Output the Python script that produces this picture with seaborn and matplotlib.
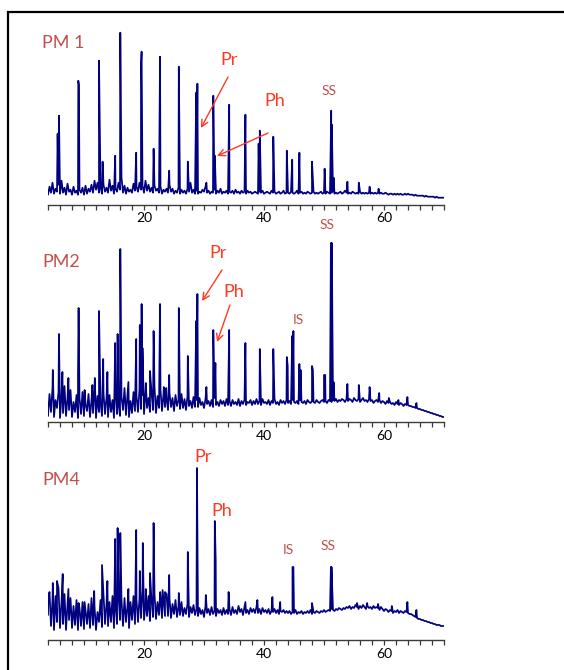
import numpy as np
import pandas as pd
import matplotlib
matplotlib.use("Agg")
import matplotlib.pyplot as plt
import matplotlib.patches as patches
import seaborn as sns

# retention time grid of the background trace (min), step 0.25 from 4 to 70
grid_start, grid_stop, grid_step = 4.0, 70.0, 0.25

# background / noise level (signal units ~ pixels above the axis)
# one row = 5 min
noise_pm1 = [10, 18, 12, 22, 11, 16, 13, 20, 11, 24, 12, 17, 10, 21, 13, 15, 10, 18, 12, 14,
             10, 15, 12, 17, 10, 19, 11, 16, 13, 20, 12, 24, 15, 22, 12, 18, 11, 20, 13, 17,
             12, 25, 14, 19, 11, 16, 13, 22, 15, 27, 12, 19, 11, 17, 13, 15, 12, 21, 14, 18,
             13, 22, 15, 19, 12, 24, 14, 20, 13, 17, 12, 19, 14, 16, 12, 18, 11, 15, 13, 16,
             12, 20, 13, 16, 11, 14, 12, 17, 11, 15, 12, 14, 11, 16, 13, 22, 12, 15, 11, 14,
             11, 13, 12, 15, 13, 18, 12, 14, 11, 13, 12, 15, 11, 14, 12, 16, 11, 13, 12, 14,
             11, 13, 12, 14, 11, 15, 12, 13, 11, 14, 12, 13, 11, 14, 12, 13, 11, 12, 13, 12,
             11, 13, 12, 14, 11, 12, 13, 12, 11, 14, 12, 13, 11, 12, 13, 11, 12, 14, 11, 12,
             12, 11, 13, 12, 11, 12, 14, 11, 12, 13, 11, 12, 11, 13, 12, 11, 12, 13, 11, 12,
             11, 12, 13, 11, 12, 11, 13, 12, 11, 12, 13, 11, 12, 11, 12, 13, 11, 12, 14, 12,
             11, 12, 11, 13, 12, 11, 12, 11, 13, 11, 12, 11, 12, 11, 12, 11, 12, 11, 12, 11,
             12, 11, 12, 11, 11, 12, 11, 10, 11, 11, 10, 11, 10, 11, 10, 11, 10, 10, 11, 10,
             11, 10, 10, 10, 9, 10, 9, 9, 9, 9, 9, 8, 9, 8, 8, 8, 8, 8, 7, 8,
             7, 7, 7, 7, 7]
noise_pm2 = [6, 28, 10, 34, 5, 22, 14, 30, 4, 26, 9, 36, 6, 24, 12, 32, 5, 20, 10, 27,
             4, 24, 8, 30, 6, 18, 11, 28, 5, 22, 9, 33, 4, 26, 10, 20, 6, 29, 8, 24,
             5, 27, 10, 22, 4, 30, 8, 19, 6, 25, 12, 34, 7, 28, 5, 21, 9, 30, 11, 26,
             10, 33, 13, 27, 8, 31, 14, 24, 10, 30, 12, 35, 9, 26, 14, 32, 11, 28, 15, 25,
             12, 29, 15, 24, 11, 27, 16, 22, 13, 28, 14, 23, 12, 26, 16, 21, 14, 25, 15, 22,
             15, 24, 17, 20, 14, 23, 18, 21, 16, 22, 15, 24, 17, 20, 16, 22, 18, 21, 16, 23,
             17, 21, 16, 22, 18, 20, 17, 23, 16, 21, 18, 22, 17, 20, 19, 22, 17, 21, 18, 23,
             18, 21, 17, 23, 19, 20, 18, 22, 17, 21, 19, 23, 18, 20, 17, 22, 19, 21, 18, 22,
             19, 21, 18, 22, 20, 19, 21, 18, 22, 20, 19, 21, 18, 22, 20, 19, 21, 20, 19, 22,
             20, 19, 21, 22, 20, 21, 19, 22, 21, 20, 22, 21, 23, 20, 22, 21, 23, 22, 20, 23,
             21, 23, 22, 20, 24, 22, 21, 23, 20, 22, 24, 21, 22, 20, 23, 21, 22, 19, 21, 22,
             20, 22, 19, 21, 20, 18, 21, 19, 20, 18, 19, 17, 20, 18, 17, 19, 18, 16, 18, 17,
             17, 16, 16, 15, 15, 14, 14, 13, 13, 12, 12, 11, 11, 10, 10, 9, 9, 8, 8, 7,
             7, 6, 6, 5, 5]
noise_pm4 = [25, 48, 14, 40, 10, 44, 18, 52, 12, 38, 16, 46, 10, 36, 20, 42, 12, 34, 15, 40,
             10, 32, 14, 38, 11, 30, 16, 36, 12, 42, 15, 34, 10, 28, 18, 40, 13, 46, 16, 36,
             14, 38, 18, 44, 12, 36, 16, 46, 20, 40, 14, 42, 18, 34, 12, 38, 20, 44, 16, 40,
             18, 42, 22, 48, 20, 36, 24, 44, 19, 40, 23, 46, 21, 38, 25, 44, 22, 40, 24, 46,
             24, 42, 22, 36, 26, 40, 23, 34, 25, 38, 24, 32, 26, 36, 23, 33, 27, 35, 25, 31,
             24, 32, 26, 30, 23, 34, 27, 31, 25, 33, 26, 29, 24, 31, 27, 30, 25, 32, 26, 30,
             26, 31, 25, 33, 27, 30, 26, 34, 28, 31, 25, 33, 27, 30, 26, 32, 28, 31, 27, 33,
             27, 31, 26, 32, 28, 30, 27, 31, 26, 29, 28, 31, 27, 30, 26, 29, 28, 30, 27, 29,
             27, 29, 26, 28, 27, 30, 26, 28, 27, 29, 26, 28, 27, 29, 27, 30, 26, 28, 27, 29,
             28, 27, 29, 28, 30, 28, 29, 30, 29, 31, 30, 29, 31, 30, 32, 31, 30, 32, 31, 33,
             32, 34, 31, 33, 32, 35, 33, 31, 34, 32, 35, 33, 31, 34, 32, 33, 31, 34, 32, 33,
             32, 30, 33, 31, 29, 31, 30, 28, 30, 29, 27, 29, 28, 30, 27, 29, 28, 27, 29, 28,
             27, 26, 26, 25, 24, 23, 22, 21, 21, 20, 20, 19, 19, 18, 18, 17, 17, 16, 16, 15,
             15, 15, 14, 14, 14]

# peak apexes: retention time (min) and signal
peak_t_pm1 = [5.6, 5.83, 9.05, 9.15, 12.5, 13.1, 15.2, 16.05, 18.7, 19.5, 19.6, 21.6,
              22.67, 24.2, 25.8, 27.3, 28.7, 28.9, 30.4, 31.55, 31.8, 34.2, 36.9, 39.1,
              39.3, 41.55, 43.8, 44.7, 45.9, 48.0, 50.1, 51.2, 51.3, 51.6, 53.9, 55.8,
              57.6, 59.1]
peak_h_pm1 = [71, 89, 124, 120, 144, 43, 49, 172, 52, 140, 153, 56,
              148, 34, 138, 43, 112, 121, 22, 109, 49, 100, 90, 61,
              74, 68, 54, 45, 52, 43, 36, 94, 80, 27, 23, 22,
              18, 16]

peak_t_pm2 = [4.8, 5.83, 6.4, 7.4, 9.0, 9.1, 10.1, 11.4, 11.8, 12.5, 13.2, 13.9,
              15.2, 15.6, 16.05, 17.4, 18.7, 19.3, 19.6, 19.75, 20.3, 21.0, 21.6, 22.67,
              23.3, 23.7, 24.2, 25.8, 27.3, 28.7, 28.9, 30.4, 31.55, 31.9, 34.2, 36.9,
              39.3, 41.55, 43.8, 43.95, 44.7, 44.9, 45.9, 46.1, 48.0, 48.15, 50.0, 50.2,
              51.15, 51.3, 51.6, 53.9, 55.8, 57.6, 59.2, 60.8, 62.4, 63.9, 65.4]
peak_h_pm2 = [52, 88, 50, 44, 48, 114, 32, 37, 44, 111, 63, 50,
              79, 88, 173, 40, 83, 97, 118, 74, 39, 51, 91, 118,
              35, 34, 47, 114, 66, 101, 128, 35, 92, 59, 92, 79,
              73, 73, 65, 56, 86, 91, 58, 52, 56, 52, 47, 47,
              179, 179, 40, 38, 37, 35, 29, 24, 22, 25, 19]

peak_t_pm4 = [4.05, 4.8, 5.5, 6.45, 7.4, 9.1, 10.1, 11.7, 13.0, 13.9, 15.2, 15.6,
              16.05, 17.4, 18.7, 19.3, 19.8, 20.3, 21.0, 21.6, 22.7, 23.1, 23.5, 24.2,
              25.8, 27.3, 28.83, 30.3, 31.8, 31.95, 34.1, 36.9, 38.9, 41.4, 42.7, 44.75,
              44.9, 48.0, 51.15, 51.25, 55.5, 57.2, 59.0, 61.3, 63.9, 65.4]
peak_h_pm4 = [42, 57, 59, 66, 51, 37, 38, 49, 75, 59, 101, 112,
              107, 51, 110, 69, 97, 51, 67, 117, 48, 50, 48, 65,
              47, 88, 172, 45, 119, 80, 48, 38, 40, 43, 38, 73,
              73, 37, 73, 73, 37, 37, 36, 34, 38, 30]

sample_names = ["PM 1", "PM2", "PM4"]
tick_labels = [20, 40, 60]

NAVY = "#000080"
LABEL_RED = "#c0504d"
ARROW_RED = "#ff3a22"


def build_trace(noise, peak_t, peak_h):
    grid = np.arange(grid_start, grid_stop + grid_step / 2, grid_step)
    assert len(grid) == len(noise), (len(grid), len(noise))
    df = pd.concat([pd.DataFrame({"t": grid, "h": noise}),
                    pd.DataFrame({"t": peak_t, "h": peak_h})], ignore_index=True)
    return df.sort_values(["t", "h"]).reset_index(drop=True)


def main():
    sns.set_style("white")
    plt.rcParams["font.family"] = ["Lato", "DejaVu Sans"]

    W, H = 564, 670
    fig = plt.figure(figsize=(W / 100, H / 100), dpi=100)

    # frame around the figure (runs off the right and bottom edges)
    fig.patches.append(patches.Rectangle((8 / W, -0.1), 1.2, 1.1 - 12 / H, fill=False,
                                         lw=1.6, ec="black", transform=fig.transFigure,
                                         clip_on=False))

    traces = [build_trace(noise_pm1, peak_t_pm1, peak_h_pm1),
              build_trace(noise_pm2, peak_t_pm2, peak_h_pm2),
              build_trace(noise_pm4, peak_t_pm4, peak_h_pm4)]
    axis_y = [204.7, 422, 640]  # pixel row of each x axis
    span = 184

    axes = []
    for i, df in enumerate(traces):
        ax = fig.add_axes([48 / W, (H - axis_y[i]) / H, 396 / W, span / H])
        ax.patch.set_alpha(0)
        sns.lineplot(data=df, x="t", y="h", estimator=None, sort=False,
                     color=NAVY, lw=1.25, ax=ax)
        ax.set_xlim(4, 70)
        ax.set_ylim(0, span)
        ax.set_xlabel("")
        ax.set_ylabel("")
        ax.set_yticks([])
        for s in ["left", "right", "top"]:
            ax.spines[s].set_visible(False)
        ax.spines["bottom"].set_color("#3c3c3c")
        ax.spines["bottom"].set_linewidth(1.0)
        ax.set_xticks(tick_labels)
        ax.set_xticklabels([str(v) for v in tick_labels])
        ax.set_xticks(np.arange(4, 71, 2), minor=True)
        ax.tick_params(axis="x", which="both", direction="out", length=3.5, width=0.9,
                       color="#3c3c3c", labelsize=10, pad=2, labelcolor="black",
                       bottom=True)
        ax.text(3.0, 160 if i else 162, sample_names[i], ha="left", va="center",
                fontsize=13, color=LABEL_RED)
        axes.append(ax)

    big = dict(fontsize=13, color=ARROW_RED, ha="center", va="center")
    small = dict(fontsize=10, color=LABEL_RED, ha="center", va="center")
    arrow = dict(arrowstyle="->", color=ARROW_RED, lw=1.0, shrinkA=0, shrinkB=0,
                 mutation_scale=12)

    ax1, ax2, ax3 = axes
    ax1.text(34.17, 144.7, "Pr", **big)
    ax1.text(41.83, 103.7, "Ph", **big)
    ax1.text(50.83, 113.7, "SS", **small)
    ax1.annotate("", xy=(29.5, 76.7), xytext=(34.0, 127.7), arrowprops=arrow)
    ax1.annotate("", xy=(32.17, 48.7), xytext=(40.67, 71.7), arrowprops=arrow)

    ax2.text(32.33, 169, "Pr", **big)
    ax2.text(35.0, 130, "Ph", **big)
    ax2.text(50.5, 197, "SS", **small)
    ax2.text(45.67, 102, "IS", **small)
    ax2.annotate("", xy=(29.67, 121), xytext=(33.0, 152), arrowprops=arrow)
    ax2.annotate("", xy=(32.17, 80), xytext=(34.33, 117), arrowprops=arrow)

    ax3.text(29.83, 183, "Pr", **big)
    ax3.text(33.0, 129, "Ph", **big)
    ax3.text(44.0, 90, "IS", **small)
    ax3.text(50.67, 94, "SS", **small)

    fig.savefig("out.png", dpi=100)


if __name__ == "__main__":
    main()
